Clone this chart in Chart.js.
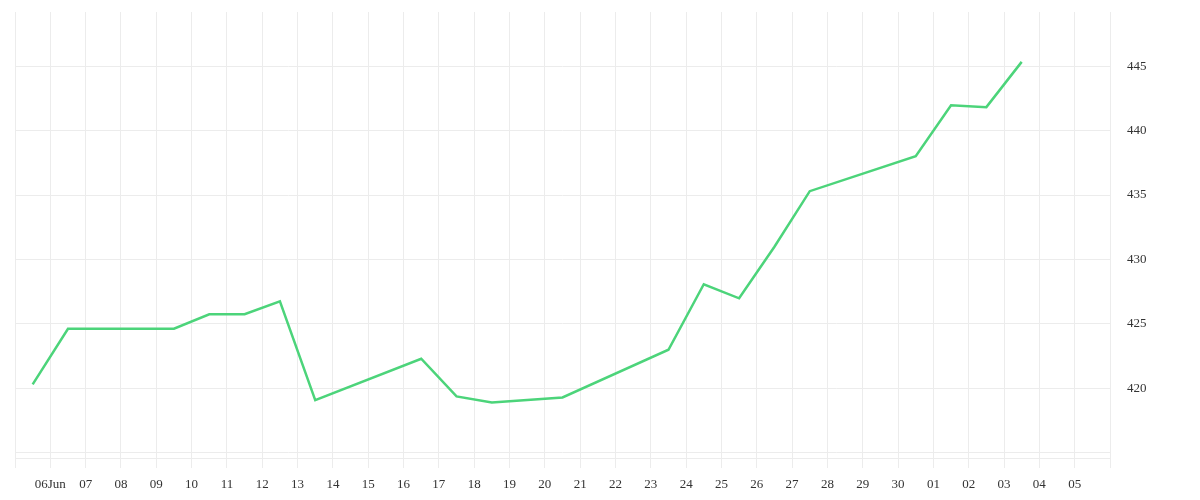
<!DOCTYPE html>
<html>
<head>
<meta charset="utf-8">
<script src="https://cdn.jsdelivr.net/npm/chart.js@4.4.1/dist/chart.umd.min.js"></script>
<style>
  html, body { margin: 0; padding: 0; background: #fff; }
  #wrap { width: 1200px; height: 500px; position: relative; }
</style>
</head>
<body>
<div id="wrap"><canvas id="priceChart"></canvas></div>
<script>
// trading days (2025) and closing values
const dates = [
  '2025-06-05', '2025-06-06', '2025-06-09', '2025-06-10', '2025-06-11', '2025-06-12', '2025-06-13',
  '2025-06-16', '2025-06-17', '2025-06-18', '2025-06-20', '2025-06-23', '2025-06-24', '2025-06-25',
  '2025-06-26', '2025-06-27', '2025-06-30', '2025-07-01', '2025-07-02', '2025-07-03'
];
const prices = [
  420.31, 424.63, 424.63, 425.75, 425.75, 426.75, 419.09,
  422.30, 419.38, 418.91, 419.30, 423.00, 428.08, 426.99,
  430.99, 435.30, 438.01, 441.97, 441.82, 445.33
];

// x axis: one grid line per day, 5 Jun .. 6 Jul
const xTickLabels = [
  '', '06Jun', '07', '08', '09', '10', '11', '12', '13', '14', '15', '16', '17', '18', '19', '20',
  '21', '22', '23', '24', '25', '26', '27', '28', '29', '30', '01', '02', '03', '04', '05', ''
];
const yTicks = [415, 420, 425, 430, 435, 440, 445];
const yTickLabels = ['', '420', '425', '430', '435', '440', '445'];

// day number counted from 31 May (so 5 Jun = 5, 1 Jul = 31)
const dayZero = Date.UTC(2025, 4, 31);
function dayOf(iso) {
  const [y, m, d] = iso.split('-').map(Number);
  return (Date.UTC(y, m - 1, d) - dayZero) / 86400000;
}

const firstTick = 5;
const points = dates.map((d, i) => ({ x: dayOf(d) + 0.5, y: prices[i] }));

const gridColor = '#ececec';
const textColor = '#333';
const tickFont = { family: '"Liberation Serif", "DejaVu Serif", serif', size: 13 };

const ctx = document.getElementById('priceChart').getContext('2d');
new Chart(ctx, {
  type: 'line',
  data: {
    datasets: [{
      data: points,
      borderColor: '#4cd47a',
      borderWidth: 2.5,
      pointRadius: 0,
      tension: 0,
      fill: false
    }]
  },
  options: {
    responsive: true,
    maintainAspectRatio: false,
    animation: false,
    layout: { padding: { left: 15, top: 12, right: 0, bottom: 0 } },
    plugins: {
      legend: { display: false },
      tooltip: { enabled: false }
    },
    scales: {
      x: {
        type: 'linear',
        min: firstTick,
        max: firstTick + xTickLabels.length - 1,
        afterBuildTicks: (scale) => {
          scale.ticks = xTickLabels.map((_, i) => ({ value: firstTick + i }));
        },
        afterFit: (scale) => {
          scale.height = 42;
          scale.paddingLeft = 0;
          scale.paddingRight = 0;
        },
        ticks: {
          autoSkip: false,
          maxRotation: 0,
          padding: 9,
          color: textColor,
          font: tickFont,
          callback: (v, i) => xTickLabels[i]
        },
        grid: { color: gridColor, lineWidth: 1, drawTicks: true, tickLength: 10 },
        border: { display: true, color: gridColor }
      },
      y: {
        position: 'right',
        min: 414.6,
        max: 449.2,
        afterBuildTicks: (scale) => {
          scale.ticks = yTicks.map(v => ({ value: v }));
        },
        afterFit: (scale) => {
          // keep the label padding from pushing the plot down
          scale.width = 90;
          scale.paddingTop = 0;
          scale.paddingBottom = 0;
        },
        ticks: {
          padding: 17,
          color: textColor,
          font: tickFont,
          callback: (v, i) => yTickLabels[i]
        },
        grid: { color: gridColor, lineWidth: 1, drawTicks: false },
        border: { display: false }
      }
    }
  }
});
</script>
</body>
</html>
